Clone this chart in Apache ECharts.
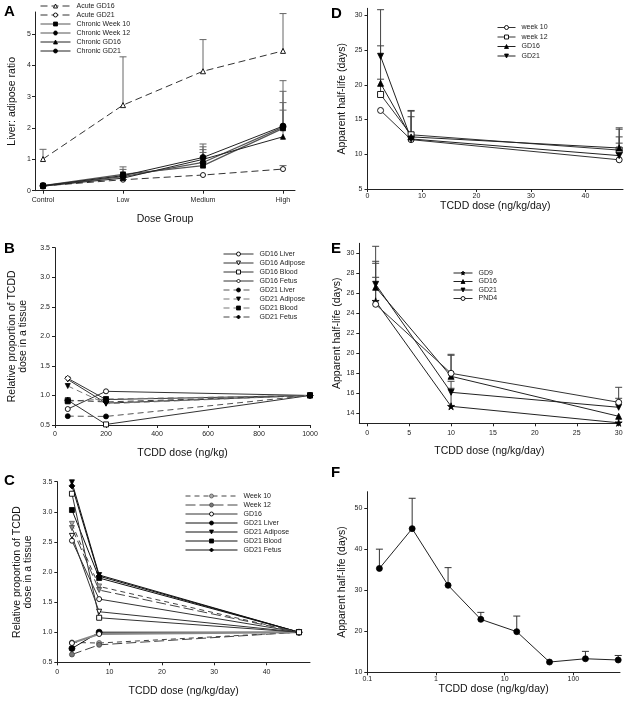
<!DOCTYPE html>
<html><head><meta charset="utf-8">
<script src="https://cdn.jsdelivr.net/npm/echarts@6/dist/echarts.min.js"></script>
<style>html,body{margin:0;padding:0;background:#fff}#c{width:627px;height:706px}</style>
</head><body><div id="c"></div>
<script>
// ---------- Panel A ----------
const doseGroups = ['Control', 'Low', 'Medium', 'High'];
const aX = [0, 1, 2, 3];
const acuteGD16 = [1.01, 2.73, 3.81, 4.46];
const acuteGD16Err = [1.32, 4.27, 4.82, 5.65];
const acuteGD21 = [0.15, 0.35, 0.50, 0.69];
const acuteGD21Err = [null, null, null, 0.80];
const chronicWk10 = [0.16, 0.52, 0.80, 1.99];
const chronicWk10Err = [null, 0.68, 1.22, 2.57];
const chronicWk12 = [0.15, 0.45, 0.90, 2.03];
const chronicWk12Err = [null, null, 1.31, 2.81];
const chronicGD16 = [0.15, 0.40, 1.00, 1.72];
const chronicGD16Err = [null, null, 1.40, 3.17];
const chronicGD21 = [0.16, 0.48, 1.06, 2.06];
const chronicGD21Err = [null, 0.76, 1.49, 3.51];
const aYTicks = [0, 1, 2, 3, 4, 5];

// ---------- Panel B ----------
const bDose = [50, 200, 1000];
const bGD16Liver = [0.77, 1.07, 1.0];
const bGD16Adipose = [1.27, 0.87, 1.0];
const bGD16Blood = [0.92, 0.51, 1.0];
const bGD16Fetus = [1.29, 0.93, 1.0];
const bGD21Liver = [0.65, 0.645, 1.0];
const bGD21Adipose = [1.16, 0.86, 1.0];
const bGD21Blood = [0.90, 0.94, 1.0];
const bGD21Fetus = [0.92, 0.89, 1.0];

// ---------- Panel C ----------
const cDose = [2.8, 8, 46.2];
const cWeek10 = [0.83, 0.82, 1.0];
const cWeek12 = [0.63, 0.79, 1.0];
const cGD16 = [2.52, 1.55, 1.0];
const cGD21Liver = [0.73, 1.0, 1.0];
const cGD21Adipose = [3.49, 1.95, 1.0];
const cGD21Blood = [3.03, 1.90, 1.0];
const cGD21Fetus = [3.43, 1.93, 1.0];
const cWeek10Adipose = [2.80, 1.76, 1.0];
const cWeek12Adipose = [2.73, 1.70, 1.0];
const cGD16Liver = [0.82, 0.97, 1.0];
const cGD16Adipose = [2.60, 1.34, 1.0];
const cGD16Blood = [3.30, 1.24, 1.0];
const cXTicks = [0, 10, 20, 30, 40];

// ---------- Panel D ----------
const dDose = [2.4, 8, 46.2];
const dWeek10 = [16.3, 12.1, 9.2];
const dWeek10Err = [null, null, 11.6];
const dWeek12 = [18.6, 12.8, 10.6];
const dWeek12Err = [20.8, 16.3, 13.6];
const dGD16 = [20.2, 12.5, 10.9];
const dGD16Err = [25.6, 16.2, 13.8];
const dGD21 = [24.1, 12.2, 9.8];
const dGD21Err = [30.8, 15.4, 12.5];
const dXTicks = [0, 10, 20, 30, 40];
const dYTicks = [5, 10, 15, 20, 25, 30];

// ---------- Panel E ----------
const eDose = [1, 10, 30];
const eGD9 = [25.2, 14.7, 13.05];
const eGD9Err = [27.6, 16.5, null];
const eGD16 = [26.6, 17.7, 13.7];
const eGD16Err = [30.7, 19.8, null];
const eGD21 = [26.9, 16.1, 14.6];
const eGD21Err = [29.2, 17.2, 15.5];
const ePND4 = [24.9, 18.0, 15.1];
const ePND4Err = [29.0, 19.9, 16.6];
const eXTicks = [0, 5, 10, 15, 20, 25, 30];
const eYTicks = [14, 16, 18, 20, 22, 24, 26, 28, 30];

// ---------- Panel F ----------
const fDose = [0.15, 0.45, 1.5, 4.5, 15, 45, 150, 450];
const fHalfLife = [35.3, 45.0, 31.2, 22.9, 19.9, 12.5, 13.3, 13.0];
const fHalfLifeErr = [40.0, 52.4, 35.5, 24.6, 23.7, null, 15.1, 14.1];
const fXTicks = [0.1, 1, 10, 100];
const fYTicks = [10, 20, 30, 40, 50];

// ---------- styling helpers ----------
const FONT = 'Liberation Sans, Arial, sans-serif';
const DOWN = 'path://M0,0L10,0L5,9Z';
const UP = 'path://M5,0L10,9L0,9Z';
const STAR = 'path://M5,0L6.2,3.6L10,3.6L6.9,5.9L8.1,9.5L5,7.3L1.9,9.5L3.1,5.9L0,3.6L3.8,3.6Z';
const HEX = 'path://M2.5,0L7.5,0L10,4.33L7.5,8.66L2.5,8.66L0,4.33Z';

function pts(xs, ys) { return xs.map((x, i) => [x, ys[i]]); }

function line(name, g, xs, ys, o) {
  o = o || {};
  return {
    type: 'line', name: name, xAxisIndex: g, yAxisIndex: g,
    data: pts(xs, ys), symbol: o.symbol || 'circle', symbolSize: o.size || 5,
    lineStyle: { color: o.lc || '#222', width: o.lw || 1, type: o.dash || 'solid' },
    itemStyle: { color: o.fill || '#000', borderColor: o.bc || '#000', borderWidth: o.bw == null ? 0.8 : o.bw },
    z: o.z || 3, animation: false, showSymbol: true
  };
}
function errs(g, xs, ys, tops, color) {
  const d = [];
  xs.forEach((x, i) => { if (tops[i] != null) d.push([x, ys[i], tops[i]]); });
  const c = color || '#555';
  return {
    type: 'custom', xAxisIndex: g, yAxisIndex: g, data: d, z: 2, silent: true,
    renderItem: function (params, api) {
      const x = api.value(0), y = api.value(1), t = api.value(2);
      const p0 = api.coord([x, y]), p1 = api.coord([x, t]);
      return { type: 'group', children: [
        { type: 'line', shape: { x1: p0[0], y1: p0[1], x2: p1[0], y2: p1[1] }, style: { stroke: c, lineWidth: 1 } },
        { type: 'line', shape: { x1: p1[0] - 3.5, y1: p1[1], x2: p1[0] + 3.5, y2: p1[1] }, style: { stroke: c, lineWidth: 1 } }
      ] };
    }
  };
}
const strip = n => n.replace(/^[A-F]\|/, '');

const axisCommon = {
  axisLine: { show: true, onZero: false, lineStyle: { color: '#222', width: 1 } },
  splitLine: { show: false },
  nameTextStyle: { fontFamily: FONT, fontSize: 10.5, color: '#111', lineHeight: 11 },
  nameLocation: 'middle'
};
function xAx(g, o) {
  return Object.assign({ type: 'value', gridIndex: g }, JSON.parse(JSON.stringify(axisCommon)), o);
}
function lbl(vals, fmt, margin) {
  const l = { fontFamily: FONT, fontSize: 7, color: '#222', margin: margin == null ? 4 : margin };
  if (vals) l.customValues = vals;
  if (fmt) l.formatter = fmt;
  return l;
}
function tick(vals) { const t = { show: true, inside: false, length: 3, lineStyle: { color: '#222' } }; if (vals) t.customValues = vals; return t; }

const grids = [
  { left: 35, top: 12, width: 260, height: 178.7 },
  { left: 55, top: 247.7, width: 255, height: 177.3 },
  { left: 57.3, top: 481.7, width: 252.7, height: 180.6 },
  { left: 367.5, top: 8.3, width: 255.5, height: 180.7 },
  { left: 359.3, top: 243.3, width: 260.2, height: 180 },
  { left: 367.3, top: 491.7, width: 252.7, height: 180.6 }
].map(g => Object.assign({ containLabel: false, outerBoundsMode: 'none' }, g));

const xAxes = [
  xAx(0, { min: -0.1, max: 3.15, name: 'Dose Group', nameGap: 23, axisLabel: lbl(aX, v => doseGroups[Math.round(v)], 6), axisTick: tick(aX) }),
  xAx(1, { min: 0, max: 1000, interval: 200, name: 'TCDD dose (ng/kg)', nameGap: 23, axisLabel: lbl(null, v => String(v), 6), axisTick: tick() }),
  xAx(2, { min: 0, max: 48.3, name: 'TCDD dose (ng/kg/day)', nameGap: 23, axisLabel: lbl(cXTicks, null, 6), axisTick: tick(cXTicks) }),
  xAx(3, { min: 0, max: 46.9, name: 'TCDD dose (ng/kg/day)', nameGap: 12, axisLabel: lbl(dXTicks, null, 4), axisTick: tick(dXTicks) }),
  xAx(4, { min: -0.95, max: 30.1, name: 'TCDD dose (ng/kg/day)', nameGap: 22, axisLabel: lbl(eXTicks, null, 6), axisTick: tick(eXTicks) }),
  xAx(5, { type: 'log', logBase: 10, min: 0.1, max: 478, name: 'TCDD dose (ng/kg/day)', nameGap: 9.5, axisLabel: lbl(fXTicks, v => String(v), 3), axisTick: tick(fXTicks) })
];
const yAxes = [
  xAx(0, { min: 0, max: 5.7, name: 'Liver: adipose ratio', nameGap: 17, axisLabel: lbl(aYTicks, null, 4), axisTick: tick(aYTicks) }),
  xAx(1, { min: 0.5, max: 3.5, interval: 0.5, name: 'Relative proportion of TCDD\ndose in a tissue', nameGap: 26, axisLabel: lbl(null, v => v.toFixed(1), 5), axisTick: tick() }),
  xAx(2, { min: 0.5, max: 3.5, interval: 0.5, name: 'Relative proportion of TCDD\ndose in a tissue', nameGap: 24, axisLabel: lbl(null, v => v.toFixed(1), 5), axisTick: tick() }),
  xAx(3, { min: 5, max: 31, name: 'Apparent half-life (days)', nameGap: 20, axisLabel: lbl(dYTicks, null, 5), axisTick: tick(dYTicks) }),
  xAx(4, { min: 13, max: 31, name: 'Apparent half-life (days)', nameGap: 13, axisLabel: lbl(eYTicks, null, 5), axisTick: tick(eYTicks) }),
  xAx(5, { min: 10, max: 54, name: 'Apparent half-life (days)', nameGap: 20, axisLabel: lbl(fYTicks, null, 5), axisTick: tick(fYTicks) })
];

const OPEN = { fill: '#fff', bc: '#000', bw: 0.9 };
const series = [
  // A
  errs(0, aX, acuteGD16, acuteGD16Err, '#666'),
  errs(0, aX, acuteGD21, acuteGD21Err, '#666'),
  errs(0, aX, chronicWk10, chronicWk10Err, '#666'),
  errs(0, aX, chronicWk12, chronicWk12Err, '#666'),
  errs(0, aX, chronicGD16, chronicGD16Err, '#666'),
  errs(0, aX, chronicGD21, chronicGD21Err, '#666'),
  line('A|Acute GD16', 0, aX, acuteGD16, Object.assign({ symbol: UP, dash: [7, 4], lc: '#333' }, OPEN)),
  line('A|Acute GD21', 0, aX, acuteGD21, Object.assign({ symbol: 'circle', dash: [7, 4], lc: '#333' }, OPEN)),
  line('A|Chronic Week 10', 0, aX, chronicWk10, { symbol: 'rect', lc: '#555', lw: 1.3 }),
  line('A|Chronic Week 12', 0, aX, chronicWk12, { symbol: HEX, lc: '#555', lw: 1.3, size: 6 }),
  line('A|Chronic GD16', 0, aX, chronicGD16, { symbol: UP, lc: '#222' }),
  line('A|Chronic GD21', 0, aX, chronicGD21, { symbol: 'circle', lc: '#222', size: 6 }),
  // B
  line('B|GD16 Liver', 1, bDose, bGD16Liver, Object.assign({ symbol: 'circle', lc: '#333' }, OPEN)),
  line('B|GD16 Adipose', 1, bDose, bGD16Adipose, Object.assign({ symbol: DOWN, lc: '#333' }, OPEN)),
  line('B|GD16 Blood', 1, bDose, bGD16Blood, Object.assign({ symbol: 'rect', lc: '#333' }, OPEN)),
  line('B|GD16 Fetus', 1, bDose, bGD16Fetus, Object.assign({ symbol: 'diamond', lc: '#333', size: 6 }, OPEN)),
  line('B|GD21 Liver', 1, bDose, bGD21Liver, { symbol: 'circle', lc: '#555', dash: [6, 4] }),
  line('B|GD21 Adipose', 1, bDose, bGD21Adipose, { symbol: DOWN, lc: '#777', dash: [6, 4] }),
  line('B|GD21 Blood', 1, bDose, bGD21Blood, { symbol: 'rect', lc: '#777', dash: [6, 4] }),
  line('B|GD21 Fetus', 1, bDose, bGD21Fetus, { symbol: 'diamond', lc: '#444', dash: [6, 4], size: 6 }),
  // C
  line('C|Week 10', 2, cDose, cWeek10, { symbol: 'circle', fill: '#aaa', bc: '#555', lc: '#444', dash: [5, 4] }),
  line('C|Week 12', 2, cDose, cWeek12, { symbol: 'circle', fill: '#777', bc: '#444', lc: '#444', dash: [10, 4] }),
  line('C|GD16', 2, cDose, cGD16, Object.assign({ symbol: 'circle', lc: '#333' }, OPEN)),
  line('C|GD21 Liver', 2, cDose, cGD21Liver, { symbol: 'circle', lc: '#111', size: 6 }),
  line('C|GD21 Adipose', 2, cDose, cGD21Adipose, { symbol: DOWN, lc: '#111' }),
  line('C|GD21 Blood', 2, cDose, cGD21Blood, { symbol: 'rect', lc: '#111' }),
  line('C|GD21 Fetus', 2, cDose, cGD21Fetus, { symbol: 'diamond', lc: '#111', size: 6 }),
  line('C|Week 10 Adipose', 2, cDose, cWeek10Adipose, { symbol: DOWN, fill: '#aaa', bc: '#555', lc: '#444', dash: [5, 4] }),
  line('C|Week 12 Adipose', 2, cDose, cWeek12Adipose, { symbol: DOWN, fill: '#888', bc: '#444', lc: '#444', dash: [10, 4] }),
  line('C|GD16 Liver', 2, cDose, cGD16Liver, Object.assign({ symbol: 'circle', lc: '#888', lw: 2 }, OPEN)),
  line('C|GD16 Adipose', 2, cDose, cGD16Adipose, Object.assign({ symbol: DOWN, lc: '#333' }, OPEN)),
  line('C|GD16 Blood', 2, cDose, cGD16Blood, Object.assign({ symbol: 'rect', lc: '#333' }, OPEN)),
  // D
  errs(3, dDose, dWeek10, dWeek10Err, '#444'),
  errs(3, dDose, dWeek12, dWeek12Err, '#444'),
  errs(3, dDose, dGD16, dGD16Err, '#444'),
  errs(3, dDose, dGD21, dGD21Err, '#444'),
  line('D|week 10', 3, dDose, dWeek10, Object.assign({ symbol: 'circle', lc: '#333', size: 6 }, OPEN)),
  line('D|week 12', 3, dDose, dWeek12, Object.assign({ symbol: 'rect', lc: '#333', size: 6 }, OPEN)),
  line('D|GD16', 3, dDose, dGD16, { symbol: UP, lc: '#222', size: 6 }),
  line('D|GD21', 3, dDose, dGD21, { symbol: DOWN, lc: '#222', size: 6 }),
  // E
  errs(4, eDose, eGD9, eGD9Err, '#444'),
  errs(4, eDose, eGD16, eGD16Err, '#444'),
  errs(4, eDose, eGD21, eGD21Err, '#444'),
  errs(4, eDose, ePND4, ePND4Err, '#444'),
  line('E|GD9', 4, eDose, eGD9, { symbol: STAR, lc: '#222', size: 7 }),
  line('E|GD16', 4, eDose, eGD16, { symbol: UP, lc: '#222', size: 6 }),
  line('E|GD21', 4, eDose, eGD21, { symbol: DOWN, lc: '#222', size: 6 }),
  line('E|PND4', 4, eDose, ePND4, Object.assign({ symbol: 'circle', lc: '#333', size: 6 }, OPEN)),
  // F
  errs(5, fDose, fHalfLife, fHalfLifeErr, '#333'),
  line('F|Half-life', 5, fDose, fHalfLife, { symbol: 'circle', lc: '#222', size: 6 })
];

// legend icon fills taken from each series' marker style
const seriesByName = {};
series.forEach(s => { if (s.name) seriesByName[s.name] = s; });
function legItem(n) {
  const s = seriesByName[n];
  return { name: n, itemStyle: { color: s.itemStyle.color, borderColor: s.itemStyle.borderColor, borderWidth: s.itemStyle.borderWidth } };
}
function leg(left, top, names, w, gap) {
  return {
    left: left, top: top, orient: 'vertical', itemWidth: w, itemHeight: 5, itemGap: gap,
    data: names.map(legItem), formatter: strip, selectedMode: false, padding: 0,
    lineStyle: { width: 1 },
    textStyle: { fontFamily: FONT, fontSize: 7, color: '#222', padding: [0, 0, 0, 1], lineHeight: 7 }
  };
}
const legends = [
  leg(40, 2.5, ['A|Acute GD16', 'A|Acute GD21', 'A|Chronic Week 10', 'A|Chronic Week 12', 'A|Chronic GD16', 'A|Chronic GD21'], 30, 2),
  leg(223, 250.5, ['B|GD16 Liver', 'B|GD16 Adipose', 'B|GD16 Blood', 'B|GD16 Fetus', 'B|GD21 Liver', 'B|GD21 Adipose', 'B|GD21 Blood', 'B|GD21 Fetus'], 30, 2),
  leg(185, 492.5, ['C|Week 10', 'C|Week 12', 'C|GD16', 'C|GD21 Liver', 'C|GD21 Adipose', 'C|GD21 Blood', 'C|GD21 Fetus'], 52, 2),
  leg(497, 24, ['D|week 10', 'D|week 12', 'D|GD16', 'D|GD21'], 18, 2.5),
  leg(453, 269.5, ['E|GD9', 'E|GD16', 'E|GD21', 'E|PND4'], 19, 1.5)
];

const letterStyle = { fontFamily: FONT, fontSize: 15, fontWeight: 'bold', color: '#000' };
const titles = [['A', 4, 4], ['B', 4, 241], ['C', 4, 473], ['D', 331, 6], ['E', 331, 241], ['F', 331, 465]]
  .map(t => ({ text: t[0], left: t[1], top: t[2], padding: 0, textStyle: letterStyle }));

const chart = echarts.init(document.getElementById('c'), null, { renderer: 'canvas' });
chart.setOption({
  animation: false,
  backgroundColor: '#fff',
  textStyle: { fontFamily: FONT },
  title: titles,
  grid: grids,
  xAxis: xAxes,
  yAxis: yAxes,
  legend: legends,
  series: series
});
</script>
</body></html>
